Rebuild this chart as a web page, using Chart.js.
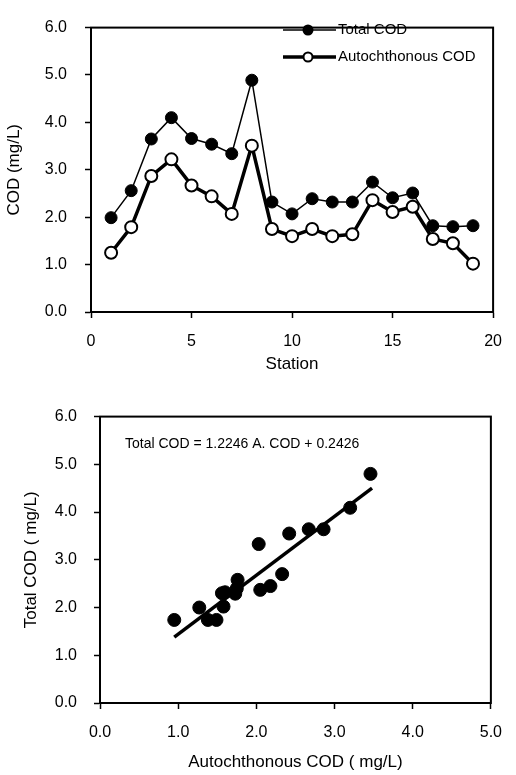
<!DOCTYPE html>
<html lang="en">
<head>
    <meta charset="UTF-8">
    <title>COD by Station</title>
    <script src="https://cdn.jsdelivr.net/npm/chart.js"></script>
    <style>
        body { margin: 0; background: #fff; }
        .box { position: absolute; left: 0; width: 516px; }
    </style>
</head>
<body>
    <div class="box" style="top:0;height:385px"><canvas id="lineChart"></canvas></div>
    <div class="box" style="top:390px;height:385px"><canvas id="scatterChart"></canvas></div>
    <script>
// data
var stations = [1, 2, 3, 4, 5, 6, 7, 8, 9, 10, 11, 12, 13, 14, 15, 16, 17, 18, 19];
var totalCod = [1.99, 2.56, 3.65, 4.10, 3.66, 3.54, 3.34, 4.89, 2.32, 2.07, 2.39, 2.32, 2.32, 2.74, 2.41, 2.51, 1.82, 1.80, 1.82];
var autoCod  = [1.25, 1.79, 2.87, 3.22, 2.67, 2.44, 2.07, 3.51, 1.75, 1.60, 1.75, 1.60, 1.64, 2.36, 2.11, 2.22, 1.54, 1.45, 1.02];

var scatterX = [0.95, 1.27, 1.38, 1.49, 1.58, 1.56, 1.60, 1.73, 1.76, 2.03, 2.05, 2.18, 2.33, 2.42, 2.67, 2.86, 3.20, 3.46, 1.75];
var scatterY = [1.74, 2.00, 1.74, 1.74, 2.02, 2.30, 2.32, 2.29, 2.58, 3.33, 2.37, 2.45, 2.70, 3.55, 3.64, 3.64, 4.09, 4.80, 2.40];
var fitX = [0.95, 3.48];
var fitY = [1.38, 4.50];

var yTicks = [0, 1, 2, 3, 4, 5, 6];
var equationText = 'Total COD = 1.2246 A. COD + 0.2426';

Chart.defaults.font.family = 'Arial, "Liberation Sans", sans-serif';
Chart.defaults.color = '#000';
Chart.defaults.animation = false;

function pts(xs, ys) {
    return xs.map(function (x, i) { return { x: x, y: ys[i] }; });
}

// thick frame around the plot area
var framePlugin = {
    id: 'frame',
    afterDraw: function (chart) {
        var a = chart.chartArea, c = chart.ctx;
        c.save();
        c.strokeStyle = '#000';
        c.lineWidth = 2;
        c.strokeRect(a.left, a.top, a.right - a.left, a.bottom - a.top);
        c.restore();
    }
};

// legend drawn inside the plot, upper right
var legendPlugin = {
    id: 'innerLegend',
    afterDatasetsDraw: function (chart) {
        var c = chart.ctx;
        var rows = [30, 57];
        c.save();
        chart.data.datasets.forEach(function (ds, i) {
            var y = rows[i];
            c.strokeStyle = '#000';
            c.lineWidth = ds.borderWidth;
            c.beginPath();
            c.moveTo(283, y);
            c.lineTo(336, y);
            c.stroke();
            c.beginPath();
            c.arc(308, y, 4.5, 0, Math.PI * 2);
            c.fillStyle = ds.pointBackgroundColor;
            c.fill();
            c.lineWidth = 2;
            c.stroke();
            c.fillStyle = '#000';
            c.font = '15px Arial, "Liberation Sans", sans-serif';
            c.textBaseline = 'middle';
            c.fillText(ds.label, 338, y);
        });
        c.restore();
    }
};

var equationPlugin = {
    id: 'equation',
    afterDraw: function (chart) {
        var c = chart.ctx;
        c.save();
        c.fillStyle = '#000';
        c.font = '14px Arial, "Liberation Sans", sans-serif';
        c.textBaseline = 'middle';
        c.fillText(equationText, 125, 54);
        c.restore();
    }
};

function yAxis(title, width, tickPad, titlePad) {
    return {
        min: 0, max: 6,
        afterBuildTicks: function (s) { s.ticks = yTicks.map(function (v) { return { value: v }; }); },
        afterFit: function (s) { s.width = width; },
        ticks: { padding: tickPad, font: { size: 16 }, callback: function (v) { return v.toFixed(1); } },
        grid: { drawOnChartArea: false, tickLength: 6, tickColor: '#000', tickWidth: 1.5 },
        border: { color: '#000', width: 2 },
        title: { display: true, text: title, font: { size: 17 }, padding: { top: titlePad, bottom: 0 } }
    };
}

var lineChart = new Chart(document.getElementById('lineChart'), {
    type: 'line',
    data: {
        datasets: [{
            label: 'Total COD',
            data: pts(stations, totalCod),
            borderColor: '#000',
            borderWidth: 1.5,
            pointRadius: 6,
            pointBackgroundColor: '#000',
            pointBorderColor: '#000',
            pointBorderWidth: 1,
            tension: 0,
            order: 1
        }, {
            label: 'Autochthonous COD',
            data: pts(stations, autoCod),
            borderColor: '#000',
            borderWidth: 3.5,
            pointRadius: 6,
            pointBackgroundColor: '#fff',
            pointBorderColor: '#000',
            pointBorderWidth: 2,
            tension: 0,
            order: 0
        }]
    },
    options: {
        responsive: true,
        maintainAspectRatio: false,
        layout: { padding: { top: 13, right: 22, left: 0, bottom: 0 } },
        plugins: { legend: { display: false }, tooltip: { enabled: false } },
        scales: {
            x: {
                type: 'linear', min: 0, max: 20,
                afterFit: function (s) { s.height = 73; },
                ticks: { stepSize: 5, padding: 14, font: { size: 16 }, maxRotation: 0 },
                grid: { drawOnChartArea: false, tickLength: 6, tickColor: '#000', tickWidth: 1.5 },
                border: { color: '#000', width: 2 },
                title: { display: true, text: 'Station', font: { size: 17 }, padding: { top: 0, bottom: 10 } }
            },
            y: yAxis('COD (mg/L)', 91, 18, 4)
        }
    },
    plugins: [framePlugin, legendPlugin]
});

var scatterChart = new Chart(document.getElementById('scatterChart'), {
    type: 'scatter',
    data: {
        datasets: [{
            label: 'Stations',
            data: pts(scatterX, scatterY),
            pointRadius: 6.5,
            pointBackgroundColor: '#000',
            pointBorderColor: '#000',
            showLine: false
        }, {
            label: 'Fit',
            data: pts(fitX, fitY),
            showLine: true,
            borderColor: '#000',
            borderWidth: 3.5,
            pointRadius: 0
        }]
    },
    options: {
        responsive: true,
        maintainAspectRatio: false,
        layout: { padding: { top: 25, right: 11, left: 0, bottom: 0 } },
        plugins: { legend: { display: false }, tooltip: { enabled: false } },
        scales: {
            x: {
                type: 'linear', min: 0, max: 5,
                afterFit: function (s) { s.height = 72; },
                ticks: { stepSize: 1, padding: 14, font: { size: 16 }, maxRotation: 0,
                         callback: function (v) { return v.toFixed(1); } },
                grid: { drawOnChartArea: false, tickLength: 6, tickColor: '#000', tickWidth: 1.5 },
                border: { color: '#000', width: 2 },
                title: { display: true, text: 'Autochthonous COD ( mg/L)', font: { size: 17 }, padding: { top: 0, bottom: 2 } }
            },
            y: yAxis('Total COD ( mg/L)', 100, 17, 21)
        }
    },
    plugins: [framePlugin, equationPlugin]
});
    </script>
</body>
</html>
